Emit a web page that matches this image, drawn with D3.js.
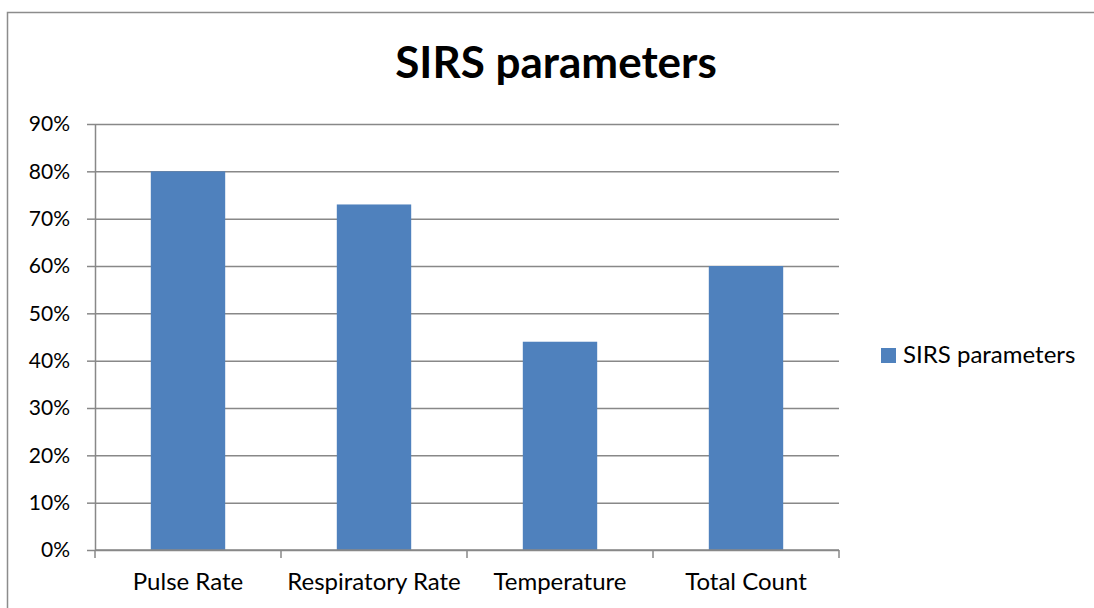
<!DOCTYPE html>
<html>
<head>
<meta charset="utf-8">
<script src="https://cdn.jsdelivr.net/npm/d3@7"></script>
<style>
  body { margin: 0; background: #fff; }
  svg text { font-family: Lato, "Open Sans", sans-serif; }
</style>
</head>
<body>
<svg id="chart" width="1094" height="608"></svg>
<script>
// chart data
var categories = ["Pulse Rate", "Respiratory Rate", "Temperature", "Total Count"];
var values = [0.80, 0.73, 0.44, 0.60];
var yTicks = [0, 0.1, 0.2, 0.3, 0.4, 0.5, 0.6, 0.7, 0.8, 0.9];
var seriesName = "SIRS parameters";

var barColor = "#4F81BD";
var gridColor = "#888888";

var margin = {top: 124, right: 255, bottom: 58, left: 95},
    width = 1094 - margin.left - margin.right,
    height = 608 - margin.top - margin.bottom;

var svg = d3.select("#chart");

// outer frame
svg.append("rect")
    .attr("x", 7.5).attr("y", 12.5)
    .attr("width", 1094).attr("height", 608)
    .attr("fill", "none")
    .attr("stroke", "#8c8c8c")
    .attr("stroke-width", 1.5);

// title
svg.append("text")
    .attr("x", 556)
    .attr("y", 78)
    .attr("text-anchor", "middle")
    .style("font-size", "44px")
    .style("font-weight", "bold")
    .text("SIRS parameters");

var g = svg.append("g")
    .attr("transform", "translate(" + margin.left + "," + margin.top + ")");

var x = d3.scaleBand()
    .domain(categories)
    .range([0, width])
    .paddingInner(0.6)
    .paddingOuter(0.3);

var y = d3.scaleLinear()
    .domain([0, 0.9])
    .range([height, 0]);

// gridlines
var gridlines = d3.axisLeft(y)
    .tickValues(yTicks)
    .tickFormat("")
    .tickSize(-width);

g.append("g")
    .attr("class", "grid")
    .call(gridlines)
    .call(function(s) {
        s.select(".domain").remove();
        s.selectAll("line").attr("stroke", gridColor).attr("stroke-width", 1.5);
    });

// y axis
var yAxis = g.append("g")
    .call(d3.axisLeft(y).tickValues(yTicks).tickSize(8).tickPadding(17)
        .tickFormat(d3.format(".0%")));
yAxis.select(".domain").attr("stroke", gridColor).attr("stroke-width", 1.5)
    .attr("d", "M0.5," + height + "V0");
yAxis.selectAll("line").attr("stroke", gridColor).attr("stroke-width", 1.5);
yAxis.selectAll("text").style("font-size", "21px").attr("fill", "#000");

// bars
g.selectAll("rect.bar")
    .data(values)
    .enter()
    .append("rect")
    .attr("class", "bar")
    .attr("x", function(d, i) { return x(categories[i]); })
    .attr("y", function(d) { return y(d); })
    .attr("width", x.bandwidth())
    .attr("height", function(d) { return height - y(d); })
    .attr("fill", barColor);

// x axis with boundary ticks
var xAxis = g.append("g")
    .attr("transform", "translate(0," + height + ")");
xAxis.append("line")
    .attr("x1", 0).attr("x2", width)
    .attr("stroke", gridColor).attr("stroke-width", 1.5);
var step = width / categories.length;
xAxis.selectAll("line.tick")
    .data(d3.range(categories.length + 1))
    .enter()
    .append("line")
    .attr("class", "tick")
    .attr("x1", function(d) { return d * step; })
    .attr("x2", function(d) { return d * step; })
    .attr("y1", 0).attr("y2", 8)
    .attr("stroke", gridColor).attr("stroke-width", 1.5);
xAxis.selectAll("text")
    .data(categories)
    .enter()
    .append("text")
    .attr("x", function(d) { return x(d) + x.bandwidth() / 2; })
    .attr("y", 40)
    .attr("text-anchor", "middle")
    .style("font-size", "24px")
    .text(function(d) { return d; });

// legend
var legend = svg.append("g")
    .attr("transform", "translate(881,348)");
legend.append("rect")
    .attr("width", 15).attr("height", 15)
    .attr("fill", barColor);
legend.append("text")
    .attr("x", 22)
    .attr("y", 15)
    .style("font-size", "24px")
    .text(seriesName);
</script>
</body>
</html>
